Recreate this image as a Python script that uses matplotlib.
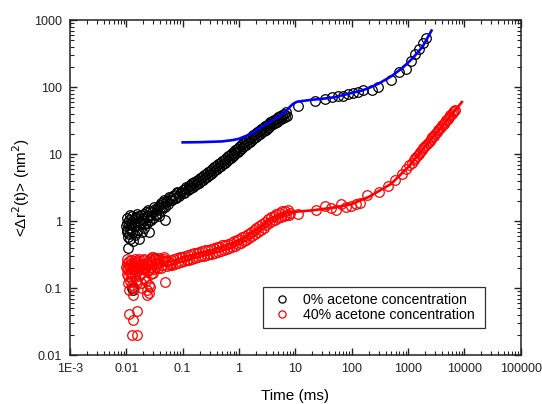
import matplotlib
matplotlib.use('Agg')
import matplotlib.pyplot as plt
from matplotlib.ticker import FixedLocator, FixedFormatter, LogLocator, NullFormatter

plt.rcParams['font.family'] = ['Liberation Sans', 'DejaVu Sans']

# ---- 0% acetone (black) ----
# noisy short-time part
t0_early = [0.0100, 0.0102, 0.0105, 0.0108, 0.0110, 0.0112, 0.0115, 0.0118, 0.0120, 0.0125,
            0.0128, 0.0130, 0.0135, 0.0140, 0.0145, 0.0150, 0.0155, 0.0160, 0.0165, 0.0170,
            0.0180, 0.0185, 0.0190, 0.0200, 0.0210, 0.0220, 0.0230, 0.0240, 0.0250, 0.0260,
            0.0270, 0.0280, 0.0300, 0.0320, 0.0340, 0.0360, 0.0380, 0.0400, 0.0420, 0.0450,
            0.0480, 0.0500, 0.0550, 0.0600, 0.0650, 0.0700, 0.0750, 0.0800, 0.0900,
            0.0101, 0.0104, 0.0107, 0.0114, 0.0117, 0.0122, 0.0132, 0.0138, 0.0148, 0.0153,
            0.0162, 0.0175, 0.0195, 0.0205, 0.0215, 0.0235, 0.0245, 0.0255, 0.0290, 0.0310,
            0.0330, 0.0350, 0.0390, 0.0410, 0.0440, 0.0470, 0.0520, 0.0570, 0.0620, 0.0680,
            0.0720, 0.0780, 0.0850, 0.0950, 0.0480,
            0.0125, 0.0130, 0.0320]
y0_early = [0.85, 0.75, 0.95, 0.40, 0.65, 1.05, 0.80, 0.55, 0.90, 1.20,
            0.70, 0.50, 0.95, 1.10, 0.62, 0.85, 1.30, 0.75, 1.00, 0.55,
            0.90, 1.25, 0.68, 1.05, 0.80, 1.35, 0.95, 1.15, 0.70, 1.40,
            1.05, 1.25, 1.10, 1.50, 1.30, 1.60, 1.20, 1.75, 1.45, 1.90,
            1.60, 2.00, 1.80, 2.20, 2.05, 2.45, 2.25, 2.60, 2.50,
            0.70, 1.10, 0.58, 0.90, 1.25, 0.75, 1.05, 0.85, 1.15, 0.68,
            1.20, 0.95, 1.10, 1.30, 0.90, 1.20, 1.45, 1.00, 1.35, 1.65,
            1.25, 1.45, 1.55, 1.85, 1.65, 2.05, 1.90, 2.30, 2.10, 2.40,
            2.20, 2.70, 2.40, 2.75, 1.05,
            0.10, 0.095, 0.28]

# dense band
t0_band = [0.100, 0.104, 0.108, 0.112, 0.117, 0.122, 0.127, 0.132, 0.137, 0.143,
           0.149, 0.155, 0.161, 0.168, 0.175, 0.182, 0.189, 0.197, 0.205, 0.214,
           0.223, 0.232, 0.241, 0.251, 0.261, 0.272, 0.283, 0.295, 0.307, 0.319,
           0.332, 0.346, 0.360, 0.375, 0.390, 0.406, 0.422, 0.439, 0.457, 0.476,
           0.495, 0.515, 0.536, 0.558, 0.581, 0.604, 0.629, 0.654, 0.681, 0.709,
           0.737, 0.767, 0.799, 0.831, 0.865, 0.900, 0.936, 0.974, 1.013, 1.054,
           1.097, 1.142, 1.188, 1.236, 1.286, 1.338, 1.392, 1.449, 1.507, 1.568,
           1.632, 1.698, 1.767, 1.838, 1.913, 1.990, 2.071, 2.155, 2.242, 2.333,
           2.427, 2.526, 2.628, 2.734, 2.845, 2.960, 3.080, 3.205, 3.335, 3.470,
           3.610, 3.756, 3.908, 4.066, 4.231, 4.402, 4.580, 4.766, 4.959, 5.160,
           5.369, 5.586, 5.812, 6.047, 6.292, 6.547, 6.812, 7.088]
y0_band = [2.90, 2.60, 3.06, 2.75, 3.20, 2.90, 3.37, 3.03, 3.52, 3.16,
           3.66, 3.29, 3.82, 3.43, 3.99, 3.57, 4.15, 3.73, 4.34, 3.95,
           4.60, 4.15, 4.85, 4.37, 5.09, 4.59, 5.35, 4.83, 5.65, 5.10,
           5.99, 5.42, 6.35, 5.73, 6.72, 6.06, 7.09, 6.41, 7.49, 6.75,
           7.86, 7.10, 8.30, 7.50, 8.77, 7.93, 9.31, 8.37, 9.77, 8.82,
           10.3, 9.31, 10.9, 9.82, 11.45, 10.34, 12.1, 10.95, 12.84, 11.66,
           13.64, 12.31, 14.45, 13.07, 15.3, 13.82, 16.16, 14.62, 17.12, 15.42,
           18.08, 16.31, 19.1, 17.25, 20.17, 18.14, 21.13, 19.04, 22.26, 20.07,
           23.43, 21.1, 24.61, 22.18, 25.89, 23.31, 27.18, 24.44, 28.46, 25.62,
           29.85, 26.84, 31.24, 28.06, 32.64, 29.28, 34.03, 30.5, 35.47, 31.82,
           36.97, 33.18, 38.57, 34.69, 40.34, 36.19, 42.05, 37.69]

# sparse long-time part
t0_late = [11, 22, 33, 44, 57, 70, 86, 106, 130, 160,
           225, 296, 495, 690, 935, 1140, 1330, 1565, 1840, 2050]
y0_late = [52, 62, 66, 72, 73, 75, 78, 81, 86, 90,
           90, 101, 127, 166, 185, 250, 310, 375, 455, 550]

# ---- 40% acetone (red) ----
t40_early = [0.0100, 0.0102, 0.0104, 0.0106, 0.0108, 0.0110, 0.0111, 0.0113, 0.0115, 0.0118,
             0.0120, 0.0123, 0.0125, 0.0127, 0.0130, 0.0133, 0.0133, 0.0136, 0.0140, 0.0143,
             0.0146, 0.0150, 0.0153, 0.0156, 0.0156, 0.0160, 0.0165, 0.0170, 0.0175, 0.0180,
             0.0185, 0.0190, 0.0195, 0.0200, 0.0210, 0.0220, 0.0229, 0.0235, 0.0240, 0.0250,
             0.0260, 0.0260, 0.0270, 0.0280, 0.0290, 0.0300, 0.0310, 0.0330, 0.0350, 0.0370,
             0.0400, 0.0430, 0.0460, 0.0480, 0.0630,
             0.0101, 0.0103, 0.0107, 0.0112, 0.0117, 0.0121, 0.0126, 0.0131, 0.0138, 0.0142,
             0.0148, 0.0158, 0.0163, 0.0168, 0.0178, 0.0188, 0.0198, 0.0205, 0.0215, 0.0225,
             0.0245, 0.0255, 0.0265, 0.0275, 0.0285, 0.0295, 0.0320, 0.0340, 0.0360, 0.0380,
             0.0410, 0.0440, 0.0470]
y40_early = [0.21, 0.16, 0.24, 0.12, 0.19, 0.095, 0.041, 0.25, 0.17, 0.21,
             0.14, 0.23, 0.11, 0.020, 0.19, 0.034, 0.079, 0.25, 0.16, 0.21,
             0.13, 0.24, 0.18, 0.045, 0.020, 0.22, 0.15, 0.27, 0.19, 0.12,
             0.23, 0.17, 0.26, 0.20, 0.14, 0.24, 0.079, 0.095, 0.18, 0.11,
             0.27, 0.105, 0.21, 0.16, 0.24, 0.29, 0.19, 0.23, 0.26, 0.20,
             0.25, 0.22, 0.27, 0.124, 0.234,
             0.19, 0.27, 0.15, 0.22, 0.13, 0.26, 0.17, 0.22, 0.10, 0.27,
             0.19, 0.12, 0.25, 0.20, 0.23, 0.10, 0.22, 0.27, 0.19, 0.13,
             0.23, 0.085, 0.19, 0.25, 0.29, 0.17, 0.27, 0.21, 0.24, 0.28,
             0.20, 0.25, 0.29]

t40_band = [0.050, 0.053, 0.056, 0.059, 0.062, 0.066, 0.070, 0.074, 0.078, 0.083,
            0.088, 0.093, 0.099, 0.105, 0.111, 0.118, 0.125, 0.132, 0.140, 0.149,
            0.158, 0.167, 0.177, 0.188, 0.199, 0.211, 0.224, 0.237, 0.251, 0.266,
            0.282, 0.299, 0.317, 0.336, 0.356, 0.377, 0.400, 0.424, 0.449, 0.476,
            0.505, 0.535, 0.567, 0.601, 0.637, 0.675, 0.716, 0.759, 0.804, 0.852,
            0.903, 0.957, 1.015, 1.076, 1.140, 1.208, 1.281, 1.357, 1.439, 1.525,
            1.617, 1.714, 1.816, 1.925, 2.041, 2.163, 2.293, 2.431, 2.576, 2.731,
            2.895, 3.068, 3.252, 3.448, 3.655, 3.874, 4.106, 4.353, 4.614, 4.890,
            5.184, 5.495, 5.824, 6.174, 6.544, 6.937, 7.353, 7.794]
y40_band = [0.250, 0.213, 0.256, 0.219, 0.263, 0.224, 0.270, 0.232, 0.279, 0.239,
            0.288, 0.246, 0.294, 0.251, 0.302, 0.259, 0.311, 0.266, 0.319, 0.273,
            0.329, 0.282, 0.338, 0.290, 0.349, 0.297, 0.356, 0.305, 0.365, 0.312,
            0.375, 0.322, 0.385, 0.328, 0.395, 0.338, 0.405, 0.347, 0.417, 0.359,
            0.433, 0.371, 0.447, 0.384, 0.462, 0.397, 0.480, 0.414, 0.501, 0.432,
            0.523, 0.451, 0.545, 0.474, 0.578, 0.501, 0.610, 0.531, 0.649, 0.564,
            0.692, 0.604, 0.741, 0.647, 0.791, 0.692, 0.850, 0.745, 0.916, 0.800,
            0.986, 0.865, 1.063, 0.929, 1.139, 0.994, 1.210, 1.049, 1.275, 1.104,
            1.341, 1.155, 1.395, 1.196, 1.433, 1.224, 1.466, 1.247]

t40_late = [7.9, 11.1, 23, 33, 43, 53, 65, 80, 98, 117,
            142, 186, 306, 440, 590, 770, 935, 1050, 1150, 1250,
            1350, 1450, 1550, 1650, 1750, 1850, 1950, 2100, 2250, 2400,
            2550, 2700, 2850, 3000, 3200, 3400, 3600, 3800, 4000, 4250,
            4500, 4750, 5000, 5300, 5600, 5900, 6200, 6500, 6800]
y40_late = [1.33, 1.30, 1.46, 1.67, 1.55, 1.47, 1.80, 1.60, 1.67, 1.80,
            1.88, 2.44, 2.75, 3.33, 4.1, 5.0, 6.1, 6.8, 7.5, 8.2,
            8.8, 9.5, 10.2, 10.9, 11.5, 12.2, 12.9, 13.9, 14.8, 15.9,
            16.9, 17.9, 18.9, 19.9, 21.2, 22.6, 24.0, 25.4, 26.8, 28.5,
            30.2, 32.0, 33.7, 35.8, 37.9, 40.0, 42.2, 44.3, 46.4]

# ---- fit curves ----
t_fit0 = [0.1, 0.2, 0.5, 0.8, 1.0, 1.5, 2, 3, 5, 7, 8, 9, 10, 11, 15, 20, 30, 50,
          100, 150, 200, 300, 500, 800, 1200, 1800, 2600]
y_fit0 = [15, 15.1, 15.5, 16.3, 17, 19.5, 22.5, 28, 36, 45, 51, 56, 59, 61, 63, 65, 67, 71,
          82, 89, 97, 113, 145, 195, 270, 400, 700]
t_fit40 = [0.1, 0.3, 1, 2, 4, 7, 10, 20, 50, 100, 200, 500, 1000, 2000, 3000, 5000, 9000]
y_fit40 = [0.29, 0.36, 0.51, 0.74, 1.12, 1.34, 1.38, 1.45, 1.6, 1.8, 2.3, 3.6, 6.4, 13, 19.5, 33, 60]

x_ticks = [1e-3, 1e-2, 1e-1, 1, 10, 100, 1000, 1e4, 1e5]
x_labels = ['1E-3', '0.01', '0.1', '1', '10', '100', '1000', '10000', '100000']
y_ticks = [0.01, 0.1, 1, 10, 100, 1000]
y_labels = ['0.01', '0.1', '1', '10', '100', '1000']

fig = plt.figure(figsize=(5.42, 4.04), dpi=100)
ax = fig.add_axes([0.129, 0.121, 0.832, 0.829])

mk = dict(marker='o', linestyle='none', markersize=6.9, markerfacecolor='none', markeredgewidth=0.9)
ax.plot(t0_early + t0_band + t0_late, y0_early + y0_band + y0_late, color='black',
        label='0% acetone concentration', **mk)
ax.plot(t40_early + t40_band + t40_late, y40_early + y40_band + y40_late, color='red',
        label='40% acetone concentration', **mk)
ax.plot(t_fit0, y_fit0, color='#0000ff', linewidth=1.9)
ax.plot(t_fit40, y_fit40, color='#ff0000', linewidth=1.9)

ax.set_xscale('log')
ax.set_yscale('log')
ax.set_xlim(1e-3, 1e5)
ax.set_ylim(0.01, 1000)

ax.xaxis.set_major_locator(FixedLocator(x_ticks))
ax.xaxis.set_major_formatter(FixedFormatter(x_labels))
ax.yaxis.set_major_locator(FixedLocator(y_ticks))
ax.yaxis.set_major_formatter(FixedFormatter(y_labels))
ax.xaxis.set_minor_locator(LogLocator(base=10, subs=range(2, 10), numticks=20))
ax.yaxis.set_minor_locator(LogLocator(base=10, subs=range(2, 10), numticks=20))
ax.xaxis.set_minor_formatter(NullFormatter())
ax.yaxis.set_minor_formatter(NullFormatter())

ax.tick_params(which='both', direction='in', top=True, right=True, labelsize=9,
               colors='#222222', pad=6)
ax.tick_params(which='major', length=5, width=1)
ax.tick_params(which='minor', length=3, width=0.8)
for s in ax.spines.values():
    s.set_linewidth(1.1)
    s.set_color('#222222')

ax.set_xlabel('Time (ms)', fontsize=11, labelpad=10)
ax.set_ylabel('<Δr$^2$(t)> (nm$^2$)', fontsize=11, labelpad=1)

leg = ax.legend(loc='lower left', bbox_to_anchor=(0.428, 0.081, 0.492, 0.1), mode='expand',
                borderaxespad=0, fontsize=10.2, markerscale=0.75, fancybox=False,
                edgecolor='black', handletextpad=0.5, borderpad=0.4, labelspacing=0.1,
                handlelength=1.9)
leg.get_frame().set_linewidth(0.9)

plt.savefig('out.png', dpi=100)
